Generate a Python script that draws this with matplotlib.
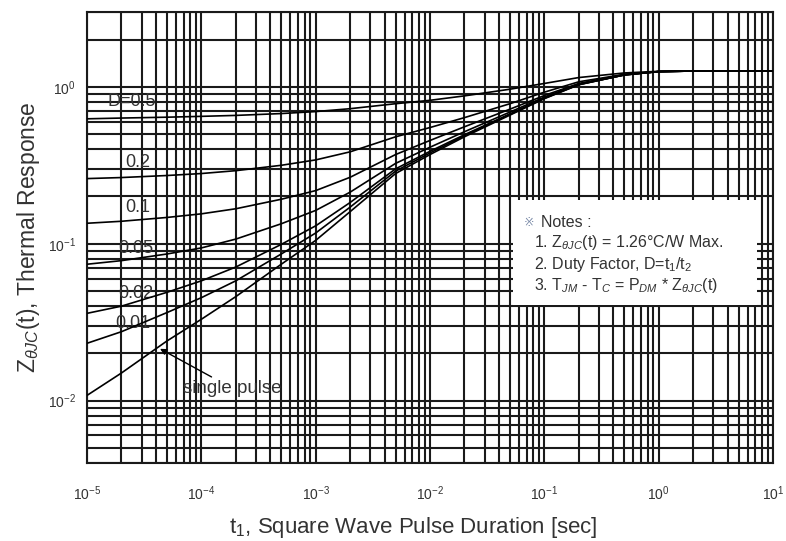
import matplotlib
matplotlib.use("Agg")
import matplotlib.pyplot as plt
from matplotlib.ticker import LogLocator, NullFormatter
from matplotlib.patches import Rectangle

plt.rcParams['font.family'] = ['Liberation Sans', 'DejaVu Sans']
plt.rcParams['mathtext.fontset'] = 'custom'
plt.rcParams['mathtext.rm'] = 'Liberation Sans'
plt.rcParams['mathtext.it'] = 'Liberation Sans:italic'
plt.rcParams['mathtext.bf'] = 'Liberation Sans:bold'

# pulse duration t1 [sec]
t = [1e-5, 2e-5, 5e-5, 1e-4, 2e-4, 5e-4, 1e-3, 2e-3, 5e-3, 1e-2,
     2e-2, 5e-2, 1e-1, 2e-1, 5e-1, 1, 2, 5, 10]

# Z_thJC(t) for each duty factor
d_050 = [0.625, 0.632, 0.64, 0.648, 0.657, 0.675, 0.695, 0.725, 0.78, 0.82,
         0.875, 0.965, 1.05, 1.145, 1.225, 1.255, 1.26, 1.26, 1.26]
d_020 = [0.26, 0.264, 0.272, 0.28, 0.292, 0.316, 0.342, 0.385, 0.48, 0.55,
         0.636, 0.78, 0.924, 1.076, 1.2, 1.25, 1.26, 1.26, 1.26]
d_010 = [0.135, 0.139, 0.147, 0.155, 0.167, 0.192, 0.218, 0.265, 0.37, 0.455,
         0.556, 0.72, 0.88, 1.05, 1.197, 1.25, 1.26, 1.26, 1.26]
d_005 = [0.074, 0.078, 0.086, 0.094, 0.107, 0.134, 0.163, 0.213, 0.325, 0.412,
         0.517, 0.69, 0.86, 1.04, 1.19, 1.25, 1.26, 1.26, 1.26]
d_002 = [0.036, 0.04, 0.049, 0.058, 0.071, 0.099, 0.13, 0.183, 0.3, 0.388,
         0.495, 0.672, 0.848, 1.034, 1.19, 1.25, 1.26, 1.26, 1.26]
d_001 = [0.0232, 0.0275, 0.0364, 0.0453, 0.058, 0.086, 0.117, 0.171, 0.29, 0.379,
         0.488, 0.666, 0.844, 1.032, 1.19, 1.25, 1.26, 1.26, 1.26]
single = [0.0108, 0.015, 0.024, 0.033, 0.046, 0.074, 0.105, 0.16, 0.28, 0.37,
          0.48, 0.66, 0.84, 1.03, 1.19, 1.25, 1.26, 1.26, 1.26]

curves = [d_050, d_020, d_010, d_005, d_002, d_001, single]
labels = ["D=0.5", "0.2", "0.1", "0.05", "0.02", "0.01"]
label_pos = [(1.5e-5, 0.80), (2.15e-5, 0.33), (2.15e-5, 0.171),
             (1.87e-5, 0.093), (1.87e-5, 0.048), (1.76e-5, 0.031)]

xticks = [1e-5, 1e-4, 1e-3, 1e-2, 1e-1, 1, 10]
yticks = [1e-2, 1e-1, 1]

fig = plt.figure(figsize=(7.86, 5.41), dpi=100)
ax = fig.add_axes([0.1107, 0.144, 0.8728, 0.834])
ax.set_xscale('log')
ax.set_yscale('log')
ax.set_xlim(1e-5, 10)
ax.set_ylim(0.004, 3)

ax.set_xticks(xticks)
ax.set_yticks(yticks)
ax.xaxis.set_minor_locator(LogLocator(base=10, subs=range(2, 10), numticks=100))
ax.yaxis.set_minor_locator(LogLocator(base=10, subs=range(2, 10), numticks=100))
ax.xaxis.set_minor_formatter(NullFormatter())
ax.yaxis.set_minor_formatter(NullFormatter())
ax.grid(True, which='both', color='#1a1a1a', lw=1.5, zorder=1)
ax.set_axisbelow(True)
ax.tick_params(which='both', length=0)
ax.tick_params(axis='x', pad=15, labelsize=10, labelcolor='#333333')
ax.tick_params(axis='y', pad=8, labelsize=10, labelcolor='#333333')
for s in ax.spines.values():
    s.set_color('#1a1a1a')
    s.set_linewidth(1.5)

for z in curves:
    ax.plot(t, z, color='black', lw=1.2, zorder=3)

for lab, (x, y) in zip(labels, label_pos):
    ax.text(x, y, lab, fontsize=13, color='#333333', va='center', ha='left', zorder=2)

ax.annotate("single pulse", xy=(4.35e-5, 0.0214), xytext=(6.9e-5, 0.012),
            fontsize=13.5, color='#333333', va='center', ha='left',
            arrowprops=dict(arrowstyle='-|>', color='black', lw=1.0,
                            mutation_scale=9, shrinkA=0, shrinkB=0))

# notes box
ax.add_patch(Rectangle((0.621, 0.350), 0.356, 0.233, transform=ax.transAxes,
                       facecolor='white', edgecolor='none', zorder=4))
ax.text(0.637, 0.534, "※", transform=ax.transAxes, fontsize=9, color='#7a8aa8',
        va='center', ha='left', zorder=5, family=['DejaVu Sans'])
ax.text(0.662, 0.534, "Notes :", transform=ax.transAxes, fontsize=11.5,
        color='#333333', va='center', ha='left', zorder=5)
notes = ["1. Z$_{\\theta JC}$(t) = 1.26\u00b0C/W Max.",
         "2. Duty Factor, D=t$_1$/t$_2$",
         "3. T$_{JM}$ - T$_C$ = P$_{DM}$ * Z$_{\\theta JC}$(t)"]
for i, n in enumerate(notes):
    ax.text(0.652, 0.488 - i * 0.047, n, transform=ax.transAxes, fontsize=11.5,
            color='#333333', va='center', ha='left', zorder=5)

ax.set_xlabel("t$_1$, Square Wave Pulse Duration [sec]", fontsize=16,
              color='#333333', labelpad=6)
ax.xaxis.set_label_coords(0.476, -0.115)
ax.set_ylabel("Z$_{\\theta JC}$(t), Thermal Response", fontsize=16.5,
              color='#333333', labelpad=4)

fig.savefig("out.png", dpi=100)
